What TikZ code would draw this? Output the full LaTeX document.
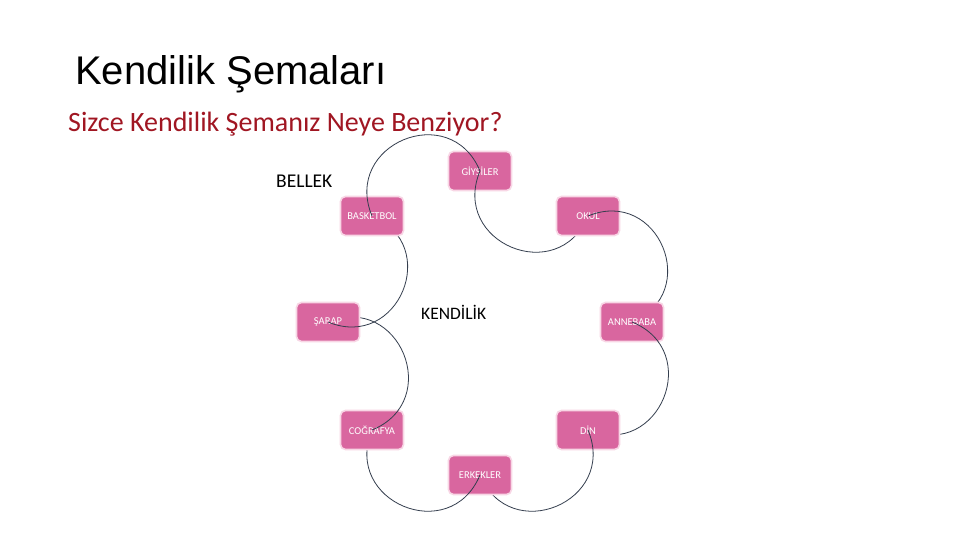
\documentclass[tikz,border=0pt]{standalone}
\usepackage{fontspec}
\setmainfont{Carlito}
\newfontfamily\arialfont{Liberation Sans}
\pgfdeclarelayer{L0}
\pgfdeclarelayer{L1}\pgfdeclarelayer{L2}\pgfdeclarelayer{L3}\pgfdeclarelayer{L4}
\pgfdeclarelayer{L5}\pgfdeclarelayer{L6}\pgfdeclarelayer{L7}\pgfdeclarelayer{L8}
\pgfdeclarelayer{L9}\pgfdeclarelayer{L10}\pgfdeclarelayer{L11}\pgfdeclarelayer{L12}
\pgfdeclarelayer{L13}\pgfdeclarelayer{L14}\pgfdeclarelayer{L15}
\pgfsetlayers{L0,L1,L2,L3,L4,L5,L6,L7,L8,L9,L10,L11,L12,L13,L14,L15,main}
\definecolor{boxfill}{RGB}{217,102,159}
\definecolor{boxedge}{RGB}{248,214,229}
\definecolor{subred}{RGB}{160,22,34}
\definecolor{arcline}{RGB}{52,62,78}
\tikzset{
  box/.style={draw=boxedge, line width=1.6pt, fill=boxfill, rounded corners=5pt,
    minimum width=63pt, minimum height=39pt, inner sep=0pt, text=white,
    font=\fontsize{10.5}{12}\selectfont},
  arcc/.style={draw=arcline, line width=0.8pt, looseness=1.7},
  plain/.style={inner sep=0pt, anchor=base west}
}
\begin{document}
\begin{tikzpicture}[x=1pt,y=1pt]
\useasboundingbox (0,0) rectangle (960,-540);
\begin{pgfonlayer}{L0}\fill[white] (0,0) rectangle (960,-540);\end{pgfonlayer}
\node[plain, font=\arialfont\fontsize{40}{44}\selectfont] (title) at (75,-85) {Kendilik Şemaları};
\node[plain, text=subred, font=\fontsize{28}{32}\selectfont] (subtitle) at (68,-132) {Sizce Kendilik Şemanız Neye Benziyor?};
\node[plain, font=\fontsize{19.5}{22}\selectfont] (bellek) at (276,-187) {BELLEK};
\node[plain, font=\fontsize{17.5}{20}\selectfont] (kendilik) at (421,-319) {KENDİLİK};

\begin{pgfonlayer}{L1}\node[box] (G) at (480,-171) {GİYSİLER};\end{pgfonlayer}
\begin{pgfonlayer}{L3}\node[box] (O) at (588,-216) {OKUL};\end{pgfonlayer}
\begin{pgfonlayer}{L5}\node[box] (A) at (632,-322) {ANNEBABA};\end{pgfonlayer}
\begin{pgfonlayer}{L7}\node[box] (D) at (588,-430) {DİN};\end{pgfonlayer}
\begin{pgfonlayer}{L9}\node[box] (E) at (480,-475) {ERKEKLER};\end{pgfonlayer}
\begin{pgfonlayer}{L11}\node[box] (C) at (372,-430) {COĞRAFYA};\end{pgfonlayer}
\begin{pgfonlayer}{L13}\node[box] (S) at (328,-322) {ŞARAP};\end{pgfonlayer}
\begin{pgfonlayer}{L15}\node[box] (B) at (372,-216) {BASKETBOL};\end{pgfonlayer}

\begin{pgfonlayer}{L2}\draw[arcc] (G.center) to[out=247.4, in=247.4] (O.center);\end{pgfonlayer}
\begin{pgfonlayer}{L4}\draw[arcc] (O.center) to[out=22.5, in=22.5] (A.center);\end{pgfonlayer}
\begin{pgfonlayer}{L6}\draw[arcc] (A.center) to[out=-22.2, in=-22.2] (D.center);\end{pgfonlayer}
\begin{pgfonlayer}{L8}\draw[arcc] (D.center) to[out=-67.4, in=-67.4] (E.center);\end{pgfonlayer}
\begin{pgfonlayer}{L10}\draw[arcc] (E.center) to[out=-112.6, in=-112.6] (C.center);\end{pgfonlayer}
\begin{pgfonlayer}{L12}\draw[arcc] (C.center) to[out=22.2, in=22.2] (S.center);\end{pgfonlayer}
\begin{pgfonlayer}{L14}\draw[arcc] (S.center) to[out=-22.5, in=-22.5] (B.center);\end{pgfonlayer}
\draw[arcc] (B.center) to[out=112.6, in=112.6] (G.center);
\end{tikzpicture}
\end{document}
